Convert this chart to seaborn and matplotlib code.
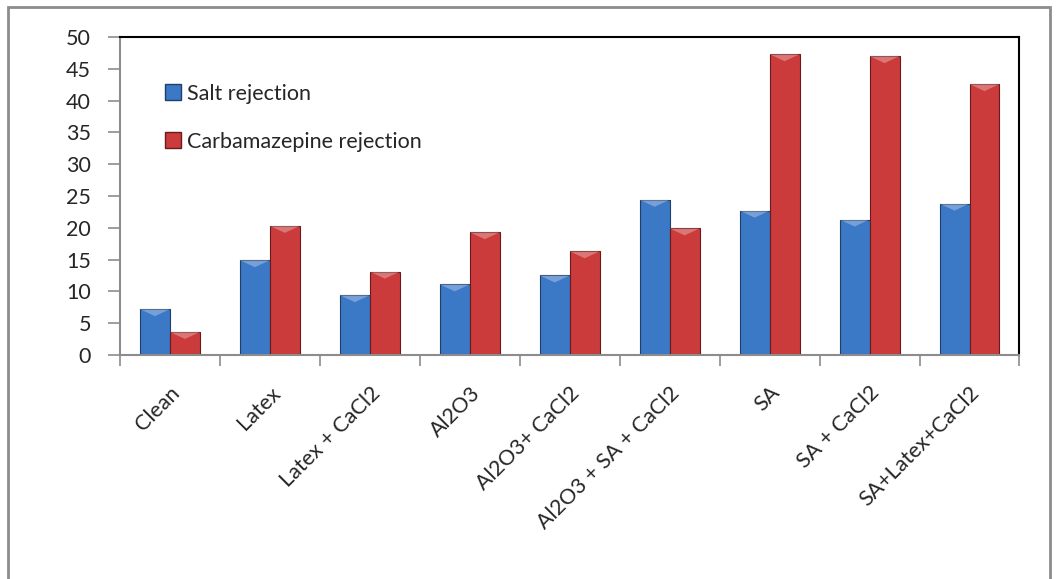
import matplotlib
matplotlib.use("Agg")
import matplotlib.pyplot as plt
import matplotlib.patches as mpatches
import seaborn as sns
import pandas as pd
import numpy as np

categories = ["Clean", "Latex", "Latex + CaCl2", "Al2O3", "Al2O3+ CaCl2",
              "Al2O3 + SA + CaCl2", "SA", "SA + CaCl2", "SA+Latex+CaCl2"]
salt_rejection = [7.2, 14.9, 9.4, 11.1, 12.5, 24.4, 22.7, 21.3, 23.8]
cbz_rejection = [3.6, 20.3, 13.1, 19.3, 16.3, 19.9, 47.3, 47.0, 42.6]
series_names = ["Salt rejection", "Carbamazepine rejection"]
y_ticks = list(range(0, 51, 5))

df = pd.DataFrame({
    "category": categories * 2,
    "value": salt_rejection + cbz_rejection,
    "series": [series_names[0]] * len(categories) + [series_names[1]] * len(categories),
})

sns.set_theme(style="white")
plt.rcParams["font.family"] = ["Lato", "DejaVu Sans"]
FS = 15.5

colors = {series_names[0]: "#3b78c6", series_names[1]: "#cb3b3b"}
edges = {series_names[0]: "#1f3f6a", series_names[1]: "#6a1a1a"}

fig = plt.figure(figsize=(10.57, 5.79), dpi=100)
ax = fig.add_axes([0.1135, 0.387, 0.851, 0.549])

sns.barplot(data=df, x="category", y="value", hue="series", order=categories,
            hue_order=series_names, palette=colors, width=0.6, ax=ax,
            legend=False, saturation=1)

# darker outlines and a light bevel on top of each bar
for container, name in zip(ax.containers, series_names):
    for bar in container:
        bar.set_edgecolor(edges[name])
        bar.set_linewidth(0.8)
        x0, w, h = bar.get_x(), bar.get_width(), bar.get_height()
        bevel = min(1.1, h * 0.3)
        tri = mpatches.Polygon([[x0, h], [x0 + w, h], [x0 + w * 0.5, h - bevel]],
                               closed=True, facecolor="white", alpha=0.3,
                               edgecolor="none", zorder=bar.get_zorder() + 0.1)
        ax.add_patch(tri)

ax.set_ylim(0, 50)
ax.set_yticks(y_ticks)
ax.set_yticklabels([str(t) for t in y_ticks], fontsize=FS)
ax.set_xlim(-0.5, len(categories) - 0.5)
ax.set_xlabel("")
ax.set_ylabel("")

# category boundary ticks on the x axis
ax.set_xticks(np.arange(-0.5, len(categories), 1.0), minor=True)
ax.tick_params(axis="x", which="minor", length=8, width=1.2, color="#8c8c8c",
               direction="out", bottom=True)
ax.tick_params(axis="x", which="major", length=0, pad=20)
ax.tick_params(axis="y", which="major", length=9, width=1.2, color="#8c8c8c",
               direction="out", left=True, pad=12)
ax.set_xticks(range(len(categories)))
ax.set_xticklabels(categories, rotation=45, ha="right", va="top",
                   rotation_mode="anchor", fontsize=FS)

for side in ["top", "right"]:
    ax.spines[side].set_visible(True)
    ax.spines[side].set_color("black")
    ax.spines[side].set_linewidth(1.5)
for side in ["left", "bottom"]:
    ax.spines[side].set_color("#8c8c8c")
    ax.spines[side].set_linewidth(1.5)

handles = [mpatches.Patch(facecolor=colors[n], edgecolor=edges[n], label=n)
           for n in series_names]
ax.legend(handles=handles, loc="upper left", bbox_to_anchor=(0.04, 0.88),
          frameon=False, fontsize=FS, handlelength=0.75, handleheight=0.75,
          handletextpad=0.3, labelspacing=1.3, borderaxespad=0)

# outer chart border
fig.patches.append(mpatches.Rectangle((0.008, -0.01), 0.985, 0.998,
                                      transform=fig.transFigure, fill=False,
                                      edgecolor="#8c8c8c", linewidth=2))

fig.savefig("out.png", dpi=100)
